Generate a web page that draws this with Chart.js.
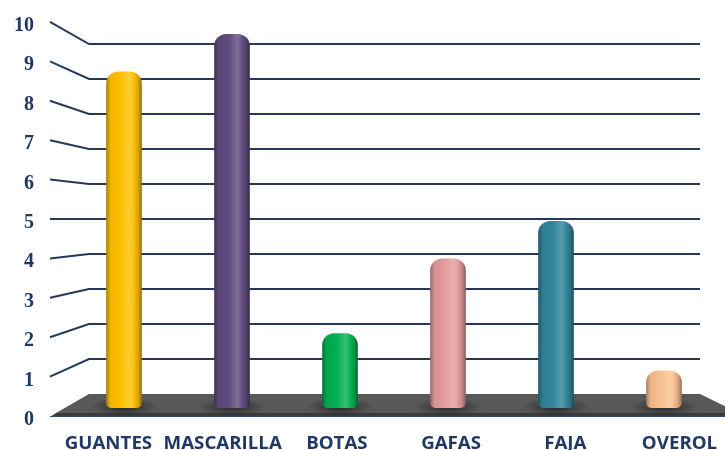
<!DOCTYPE html>
<html>
<head>
<meta charset="utf-8">
<script src="https://cdn.jsdelivr.net/npm/chart.js@4.4.1/dist/chart.umd.min.js"></script>
<style>
  html, body { margin: 0; padding: 0; background: #fff; }
  #wrap { width: 725px; height: 450px; }
</style>
</head>
<body>
<div id="wrap"><canvas id="epp"></canvas></div>
<script>
var categorias = ['GUANTES', 'MASCARILLA', 'BOTAS', 'GAFAS', 'FAJA', 'OVEROL'];
var cantidades = [9, 10, 2, 4, 5, 1];
var colores = ['#ffc000', '#5f4a7d', '#00b050', '#e39c9b', '#31849b', '#fac08f'];
var marcas = [0, 1, 2, 3, 4, 5, 6, 7, 8, 9, 10];

var azul = '#1f3864';

// mezcla un color con blanco (f > 0) o negro (f < 0)
function tono(hex, f) {
  var n = parseInt(hex.slice(1), 16);
  var rgb = [(n >> 16) & 255, (n >> 8) & 255, n & 255];
  var t = f < 0 ? 0 : 255, p = Math.abs(f);
  rgb = rgb.map(function (v) { return Math.round(v + (t - v) * p); });
  return 'rgb(' + rgb.join(',') + ')';
}

// degradado horizontal para que cada barra parezca un cilindro
function cilindro(c) {
  var ch = c.chart, xs = ch.scales.x;
  var base = colores[c.dataIndex];
  if (!xs || !xs.width) return base;
  var cx = xs.getPixelForValue(c.dataIndex);
  var hw = (xs.width / categorias.length) * 0.33 / 2;
  var g = ch.ctx.createLinearGradient(cx - hw, 0, cx + hw, 0);
  g.addColorStop(0, tono(base, -0.35));
  g.addColorStop(0.12, tono(base, -0.06));
  g.addColorStop(0.4, base);
  g.addColorStop(0.66, tono(base, 0.2));
  g.addColorStop(0.76, tono(base, 0.06));
  g.addColorStop(0.9, tono(base, -0.15));
  g.addColorStop(1, tono(base, -0.42));
  return g;
}

var escena = {
  id: 'escena',
  beforeDatasetsDraw: function (chart) {
    var ctx = chart.ctx, a = chart.chartArea;
    var yb = chart.scales.yBack, yf = chart.scales.yFront;
    var xf = a.left - 20, xb = a.left + 19, xr = a.right - 18;

    // líneas de la pared del fondo con su tramo inclinado
    ctx.save();
    ctx.strokeStyle = '#26395a';
    ctx.lineWidth = 2;
    marcas.forEach(function (v) {
      if (v === 0) return;
      ctx.beginPath();
      ctx.moveTo(xf, yf.getPixelForValue(v));
      ctx.lineTo(xb, yb.getPixelForValue(v));
      ctx.lineTo(xr, yb.getPixelForValue(v));
      ctx.stroke();
    });

    // piso gris
    var y0b = yb.getPixelForValue(0), y0f = yf.getPixelForValue(0);
    ctx.fillStyle = '#585858';
    ctx.beginPath();
    ctx.moveTo(xb, y0b);
    ctx.lineTo(xr, y0b);
    ctx.lineTo(xr + 39, y0f - 3);
    ctx.lineTo(xf + 6, y0f - 3);
    ctx.closePath();
    ctx.fill();
    ctx.fillStyle = '#3c3c3c';
    ctx.beginPath();
    ctx.moveTo(xf + 6, y0f - 3);
    ctx.lineTo(xr + 39, y0f - 3);
    ctx.lineTo(xr + 39, y0f + 1);
    ctx.lineTo(xf, y0f + 1);
    ctx.closePath();
    ctx.fill();
    ctx.strokeStyle = '#2e4a6e';
    ctx.lineWidth = 1;
    ctx.beginPath();
    ctx.moveTo(xf, y0f + 0.5);
    ctx.lineTo(xr + 39, y0f + 0.5);
    ctx.stroke();

    // sombras bajo cada barra
    chart.getDatasetMeta(0).data.forEach(function (bar) {
      ctx.save();
      ctx.translate(bar.x, bar.base - 1);
      ctx.scale(1, 0.28);
      var g = ctx.createRadialGradient(0, 0, 0, 0, 0, 34);
      g.addColorStop(0, 'rgba(0,0,0,0.55)');
      g.addColorStop(1, 'rgba(0,0,0,0)');
      ctx.fillStyle = g;
      ctx.beginPath();
      ctx.arc(0, 0, 34, 0, Math.PI * 2);
      ctx.fill();
      ctx.restore();
    });
    ctx.restore();
  },
  afterDraw: function (chart) {
    var ctx = chart.ctx, a = chart.chartArea;
    var yf = chart.scales.yFront, xs = chart.scales.x;
    ctx.save();
    ctx.fillStyle = azul;

    // números del eje vertical
    ctx.font = 'bold 20px "Liberation Serif"';
    ctx.textAlign = 'right';
    ctx.textBaseline = 'alphabetic';
    marcas.forEach(function (v) {
      ctx.fillText(String(v), a.left - 36, yf.getPixelForValue(v) + 9);
    });

    // nombres de las categorías, un poco abiertos hacia los lados
    var mid = (a.left + a.right) / 2;
    ctx.font = 'bold 17px "Open Sans"';
    ctx.textAlign = 'center';
    categorias.forEach(function (nombre, i) {
      var x = mid + (xs.getPixelForValue(i) - mid) * 1.0575;
      ctx.save();
      ctx.translate(x, 449);
      ctx.scale(1.1, 1);
      ctx.fillText(nombre, 0, 0);
      ctx.restore();
    });
    ctx.restore();
  }
};

new Chart(document.getElementById('epp'), {
  type: 'bar',
  data: {
    labels: categorias,
    datasets: [{
      data: cantidades,
      backgroundColor: cilindro,
      borderWidth: 0,
      borderSkipped: false,
      borderRadius: { topLeft: 12, topRight: 12, bottomLeft: 5, bottomRight: 5 },
      barPercentage: 0.33,
      categoryPercentage: 1
    }]
  },
  options: {
    responsive: true,
    maintainAspectRatio: false,
    animation: false,
    layout: { padding: { left: 70, right: 7, top: 34, bottom: 42 } },
    plugins: { legend: { display: false }, tooltip: { enabled: false } },
    scales: {
      x: { display: false, offset: true, grid: { display: false } },
      y: { display: false, min: 0, max: 10 },
      yBack: { display: false, min: -0.4, max: 10.286 },
      yFront: { display: false, min: 0.203, max: 9.695 }
    }
  },
  plugins: [escena]
});
</script>
</body>
</html>
